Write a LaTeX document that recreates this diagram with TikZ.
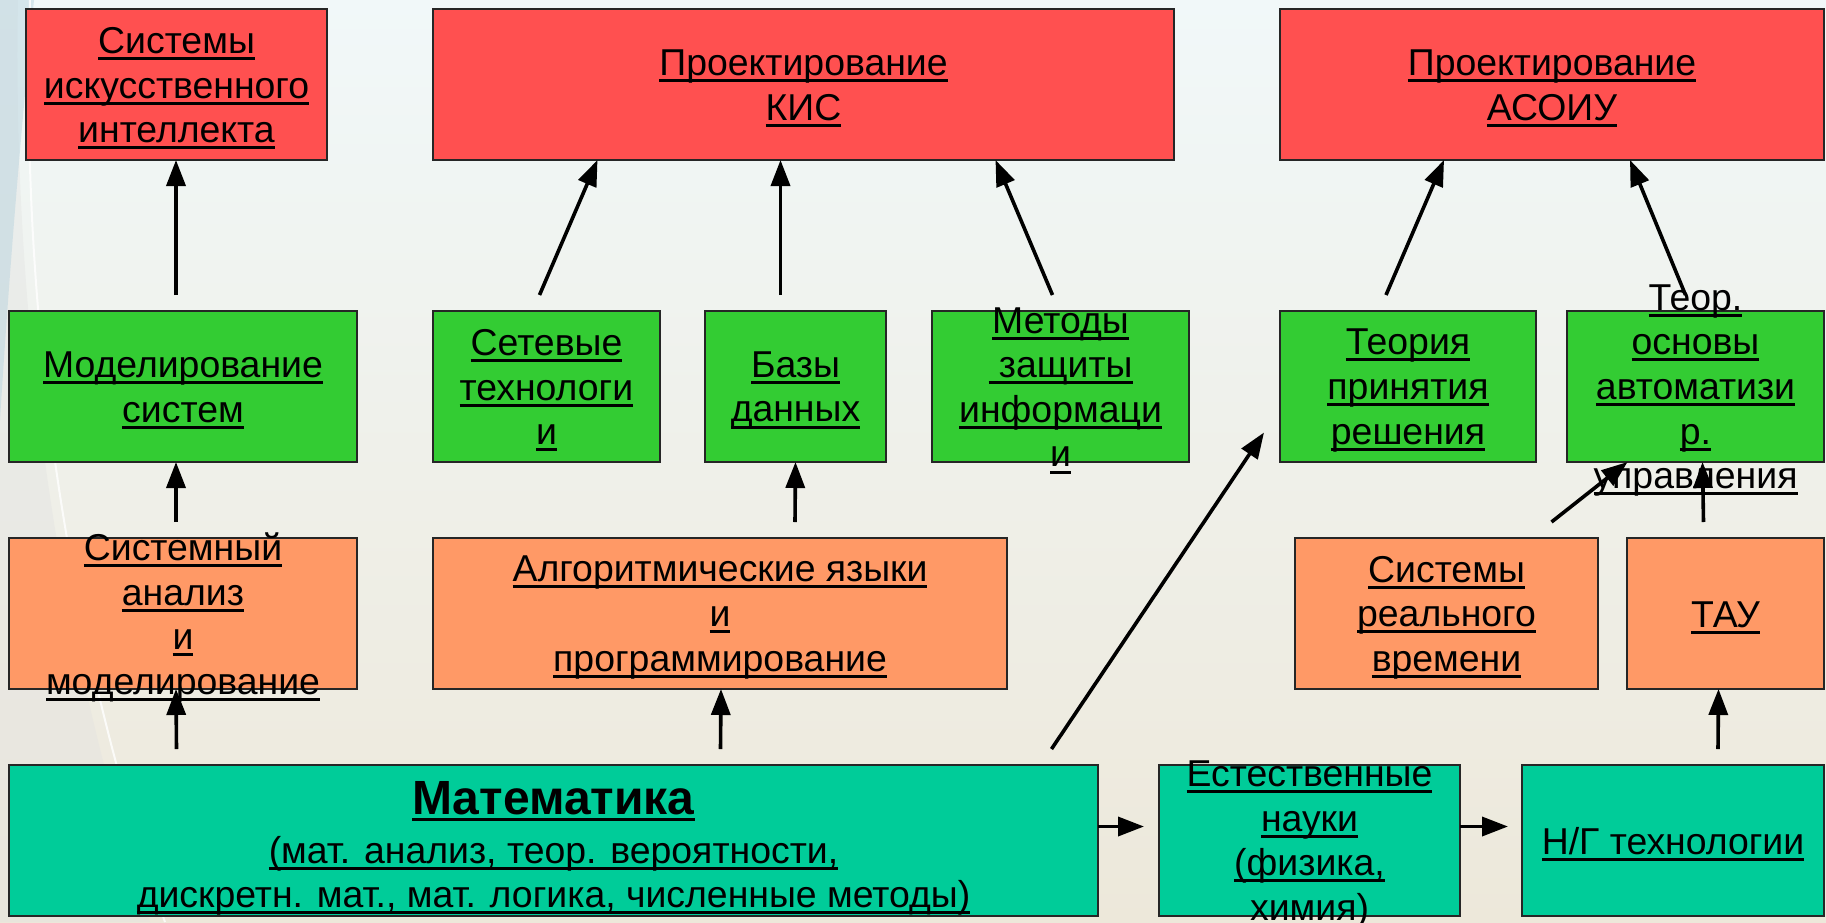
\documentclass[tikz,border=0pt]{standalone}
\usepackage{fontspec}
\setmainfont{Liberation Sans}
\usetikzlibrary{arrows.meta}
\newcommand\undl[1]{\setbox0\hbox{#1}\rlap{\rule[-6.6pt]{\wd0}{3pt}}\box0}
\definecolor{cred}{HTML}{FF5050}
\definecolor{cgreen}{HTML}{33CC33}
\definecolor{corange}{HTML}{FF9966}
\definecolor{cteal}{HTML}{00CC99}
\definecolor{bgtop}{HTML}{F1F8F9}
\definecolor{bgmid}{HTML}{F7F7F2}
\definecolor{bgbot}{HTML}{EDE8DA}
\begin{document}
\begin{tikzpicture}[x=1pt,y=-1pt,
  box/.style={draw=black!85, line width=2pt, inner sep=0pt, outer sep=0pt, minimum height=151pt},
  txt/.style={align=center, font=\fontsize{37.4}{44.6}\selectfont, inner sep=0pt, yshift=-4pt},
  arr/.style={line width=3.6pt, -{Triangle[length=26pt,width=19pt]}}]
% background
\useasboundingbox (0,0) rectangle (1826,922);
\shade[top color=bgtop, middle color=bgmid, bottom color=bgbot] (0,0) rectangle (1826,922);
\fill[color=black!12, opacity=0.35] (0,0) -- (18,0) .. controls (12,330) and (60,650) .. (150,922) -- (0,922) -- cycle;
\fill[color=cyan!40!gray!45, opacity=0.5] (0,0) -- (34,0) .. controls (22,120) and (10,260) .. (0,420) -- cycle;
\draw[white, line width=2pt, opacity=0.8] (30,0) .. controls (20,330) and (70,650) .. (165,922);
% top row (red)
\node[box, fill=cred, minimum width=301pt] (sii) at (176.5,84.5) {};
\node[txt] (sii-t) at (sii.center) {\undl{Системы}\\\undl{искусственного}\\\undl{интеллекта}};
\node[box, fill=cred, minimum width=741pt] (kis) at (803.5,84.5) {};
\node[txt] (kis-t) at (kis.center) {\undl{Проектирование}\\\undl{КИС}};
\node[box, fill=cred, minimum width=544pt] (asoiu) at (1552,84.5) {};
\node[txt] (asoiu-t) at (asoiu.center) {\undl{Проектирование}\\\undl{АСОИУ}};
% second row (green)
\node[box, fill=cgreen, minimum width=348pt] (mod) at (183,386.5) {};
\node[txt] (mod-t) at (mod.center) {\undl{Моделирование}\\\undl{систем}};
\node[box, fill=cgreen, minimum width=227pt] (set) at (546.5,386.5) {};
\node[txt] (set-t) at (set.center) {\undl{Сетевые}\\\undl{технологи}\\\undl{и}};
\node[box, fill=cgreen, minimum width=181pt] (bd) at (795.5,386.5) {};
\node[txt] (bd-t) at (bd.center) {\undl{Базы}\\\undl{данных}};
\node[box, fill=cgreen, minimum width=257pt] (mzi) at (1060.5,386.5) {};
\node[txt] (mzi-t) at (mzi.center) {\undl{Методы}\\\undl{\ защиты}\\\undl{информаци}\\\undl{и}};
\node[box, fill=cgreen, minimum width=256pt] (tpr) at (1408,386.5) {};
\node[txt] (tpr-t) at (tpr.center) {\undl{Теория}\\\undl{принятия}\\\undl{решения}};
\node[box, fill=cgreen, minimum width=257pt] (toau) at (1695.5,386.5) {};
% third row (orange)
\node[box, fill=corange, minimum width=348pt] (san) at (183,613.5) {};
\node[box, fill=corange, minimum width=574pt] (alg) at (720,613.5) {};
\node[txt] (alg-t) at (alg.center) {\undl{Алгоритмические языки}\\\undl{и}\\\undl{программирование}};
\node[box, fill=corange, minimum width=303pt] (srv) at (1446.5,613.5) {};
\node[txt] (srv-t) at (srv.center) {\undl{Системы}\\\undl{реального}\\\undl{времени}};
\node[box, fill=corange, minimum width=197pt] (tau) at (1725.5,613.5) {};
\node[txt] (tau-t) at (tau.center) {\undl{ТАУ}};
% bottom row (teal)
\node[box, fill=cteal, minimum width=1089pt] (mat) at (553.5,840.5) {};
\node[txt, yshift=-4pt] (mat-t) at (mat.center) {{\fontsize{48}{52}\selectfont\bfseries\undl{Математика}}\\[4pt]\undl{(мат. анализ, теор. вероятности,}\\\undl{дискретн. мат., мат. логика, численные методы)}};
\node[box, fill=cteal, minimum width=301pt] (est) at (1309.5,840.5) {};
\node[txt] (est-t) at (est.center) {\undl{Естественные}\\\undl{науки}\\\undl{(физика,}\\\undl{химия)}};
\node[box, fill=cteal, minimum width=302pt] (ng) at (1673,840.5) {};
\node[txt] (ng-t) at (ng.center) {\undl{Н/Г технологии}};
% arrows
\draw[arr] ([xshift=-7pt,yshift=16pt]mod.north) -- ([xshift=-0.5pt]sii.south);
\draw[arr] ([xshift=-7pt,yshift=16pt]set.north) -- ([xshift=-206pt]kis.south);
\draw[arr] ([xshift=-15pt,yshift=16pt]bd.north) -- ([xshift=-23pt]kis.south);
\draw[arr] ([xshift=-8pt,yshift=16pt]mzi.north) -- ([xshift=192pt]kis.south);
\draw[arr] ([xshift=-22pt,yshift=16pt]tpr.north) -- ([xshift=-108pt]asoiu.south);
\draw[arr] ([xshift=-10pt,yshift=16pt]toau.north) -- ([xshift=78pt]asoiu.south);
\draw[arr] ([xshift=-7pt,yshift=16pt]san.north) -- ([xshift=-7pt]mod.south);
\draw[arr] ([xshift=75pt,yshift=16pt]alg.north) -- (bd.south);
\draw[arr] ([xshift=-22pt,yshift=16pt]tau.north) -- ([xshift=7pt]toau.south);
\draw[arr] ([xshift=-377pt,yshift=16pt]mat.north) -- ([xshift=-7pt]san.south);
\draw[arr] ([xshift=167pt,yshift=16pt]mat.north) -- ([xshift=1pt]alg.south);
\draw[arr] ([xshift=498pt,yshift=16pt]mat.north) -- ([xshift=-16pt,yshift=-46pt]tpr.west);
\draw[arr] ([xshift=45pt,yshift=16pt]ng.north) -- ([xshift=-7pt]tau.south);
\draw[arr] ([yshift=14pt]mat.east) -- ([xshift=-15pt,yshift=14pt]est.west);
\draw[arr] ([yshift=14pt]est.east) -- ([xshift=-14pt,yshift=14pt]ng.west);
% texts drawn over arrows where they overflow
\node[txt] (san-t) at (san.center) {\undl{Системный}\\\undl{анализ}\\\undl{и}\\\undl{моделирование}};
\node[txt] (toau-t) at (toau.center) {\undl{Теор.}\\\undl{основы}\\\undl{автоматизи}\\\undl{р.}\\\undl{управления}};
\draw[arr] ([xshift=105pt,yshift=16pt]srv.north) -- ([xshift=-68pt]toau.south);
\end{tikzpicture}
\end{document}
